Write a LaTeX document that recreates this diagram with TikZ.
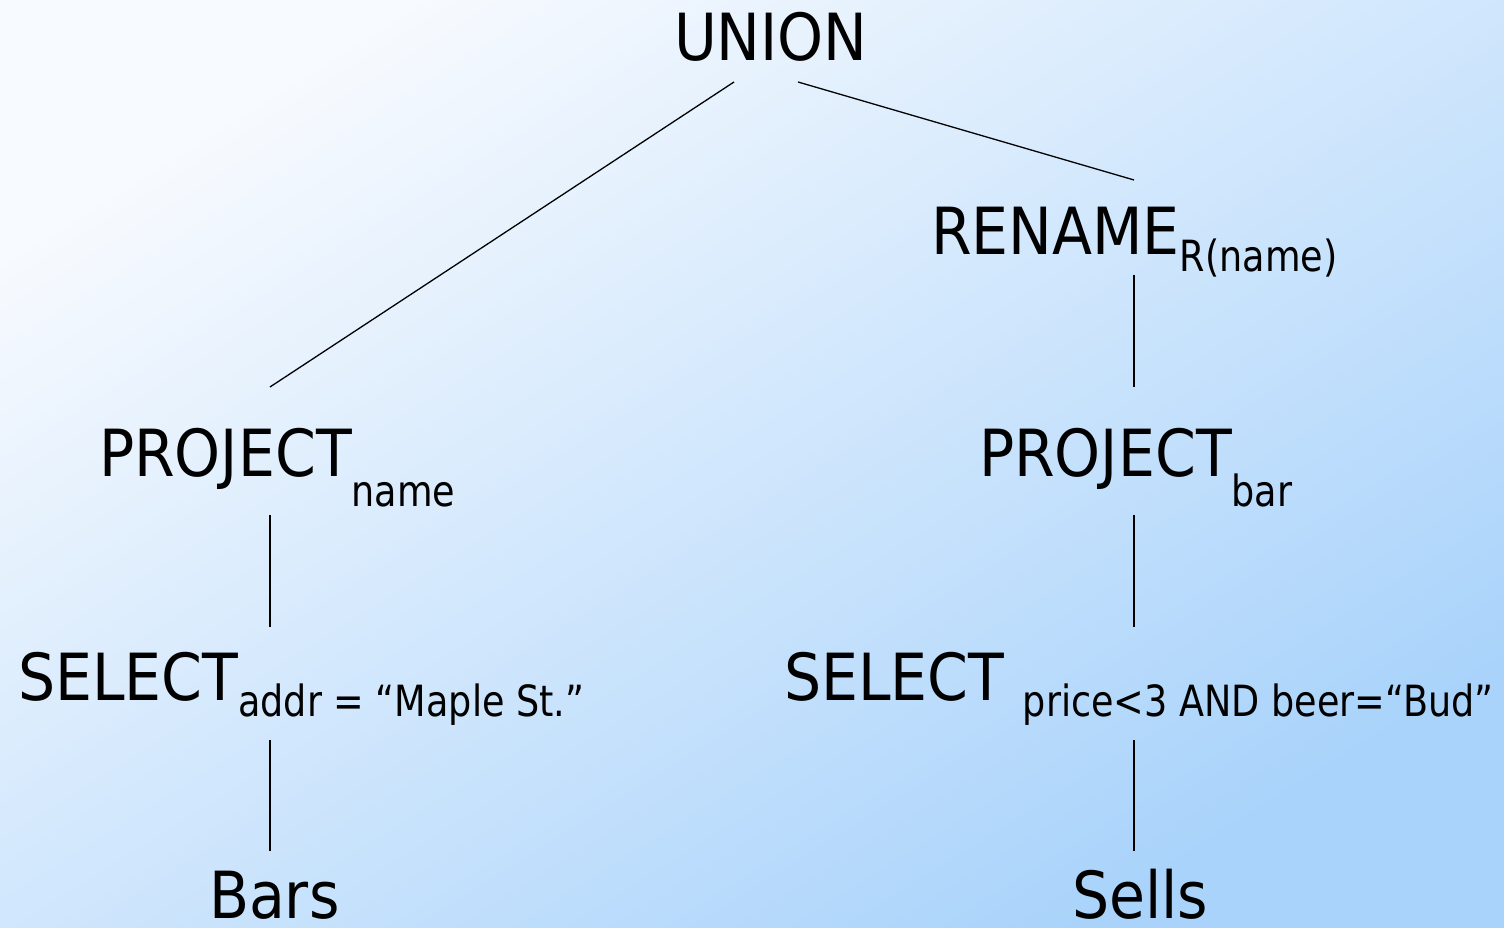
\documentclass[tikz,border=0pt]{standalone}
\usepackage{fontspec}
\setmainfont{DejaVu Sans}[FakeStretch=0.9]
\newfontfamily\subfont{DejaVu Sans}[FakeStretch=0.85]
\usetikzlibrary{calc}
\definecolor{bgTL}{HTML}{F7FAFE}
\definecolor{bgBR}{HTML}{A9D3FB}
\newcommand{\mainsz}{\fontsize{65}{70}\selectfont}
\newcommand{\subsz}{\subfont\fontsize{43}{48}\selectfont}
\newcommand{\lowsub}[2]{\raisebox{-#1pt}{\subsz #2}}
\tikzset{
  opnode/.style={anchor=base west, inner sep=0pt, outer sep=0pt, font=\mainsz, text=black},
  edge/.style={draw=black, line width=1.3pt}
}
\begin{document}
\begin{tikzpicture}[x=1pt,y=1pt]
\useasboundingbox (0,0) rectangle (1504,928);
\shade[top color=bgTL, bottom color=bgBR, shading angle=32] (0,0) rectangle (1504,928);

% nodes (left edge, baseline) ; y = 928 - pixel row
\node[opnode] (union)  at (674,867) {UNION};
\node[opnode] (rename) at (931,673) {RENAME\lowsub{17}{R(name)}};
\node[opnode] (projL)  at (99,451)  {PROJECT\lowsub{30}{name}};
\node[opnode] (projR)  at (979,451) {PROJECT\lowsub{30}{bar}};
\node[opnode] (selL)   at (18,227)  {SELECT\lowsub{16}{addr = “Maple St.”}};
\node[opnode] (selR)   at (784,227) {SELECT \lowsub{16}{price<3 AND beer=“Bud”}};
\node[opnode] (bars)   at (209,9)   {Bars};
\node[opnode] (sells)  at (1072,9)  {Sells};

% connector end points
\coordinate (unionA) at (734,846);
\coordinate (unionB) at (798,846);
\coordinate (renameTop) at (1134,748);
\coordinate (renameBot) at (1134,653);
\coordinate (projRTop) at (1134,541);
\coordinate (projRBot) at (1134,413);
\coordinate (selRTop) at (1134,301);
\coordinate (selRBot) at (1134,188);
\coordinate (sellsTop) at (1134,77);
\coordinate (projLTop) at (270,541);
\coordinate (projLBot) at (270,413);
\coordinate (selLTop) at (270,301);
\coordinate (selLBot) at (270,188);
\coordinate (barsTop) at (270,77);

\draw[edge] (unionA) -- (projLTop);
\draw[edge] (unionB) -- (renameTop);
\draw[edge] (renameBot) -- (projRTop);
\draw[edge] (projRBot) -- (selRTop);
\draw[edge] (selRBot) -- (sellsTop);
\draw[edge] (projLBot) -- (selLTop);
\draw[edge] (selLBot) -- (barsTop);
\end{tikzpicture}
\end{document}
